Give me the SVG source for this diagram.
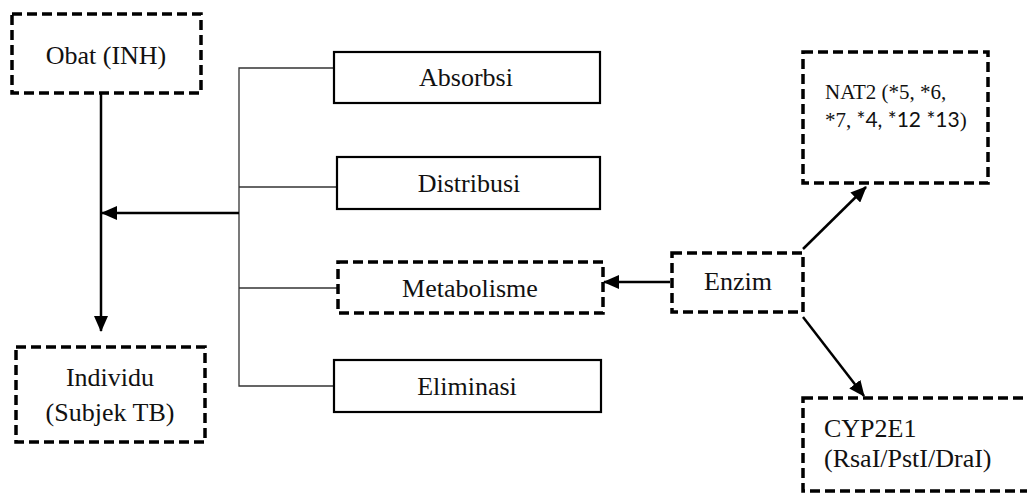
<svg xmlns="http://www.w3.org/2000/svg" width="1027" height="494" viewBox="0 0 1027 494">
  <defs>
    <style>
      .dash { fill: #fff; stroke: #000; stroke-width: 3.5; stroke-dasharray: 10 5; }
      .solid { fill: #fff; stroke: #000; stroke-width: 2.2; }
      .lbl { font-family: "Liberation Serif", "Times New Roman", serif; font-size: 26px; fill: #111; }
      .small { font-family: "Liberation Serif", "Times New Roman", serif; font-size: 21px; fill: #111; }
      .sans { font-family: Lato, "Liberation Sans", sans-serif; }
      .thin { stroke: #333; stroke-width: 1.3; fill: none; }
      .arr { stroke: #000; stroke-width: 2.5; fill: none; marker-end: url(#head); }
    </style>
    <marker id="head" markerUnits="userSpaceOnUse" markerWidth="16" markerHeight="14" refX="15" refY="7" orient="auto">
      <path d="M0,0 L16,7 L0,14 Z" fill="#000"/>
    </marker>
  </defs>

  <g id="connectors">
    <!-- bracket joining the four pharmacokinetic steps -->
    <polyline class="thin" points="333,68 239,68 239,386 333,386"/>
    <line class="thin" x1="239" y1="187" x2="336" y2="187"/>
    <line class="thin" x1="239" y1="288" x2="337" y2="288"/>
    <!-- arrows -->
    <line class="arr" x1="239" y1="213" x2="102" y2="213"/>
    <line class="arr" x1="101" y1="93" x2="101" y2="331"/>
    <line class="arr" x1="670" y1="282" x2="604" y2="282"/>
    <line class="arr" x1="803" y1="249" x2="866" y2="187"/>
    <line class="arr" x1="803" y1="317" x2="864" y2="396"/>
  </g>

  <g id="obat">
    <rect class="dash" x="12" y="14" width="189" height="79"/>
    <text class="lbl" x="106" y="64" text-anchor="middle">Obat (INH)</text>
  </g>

  <g id="individu">
    <rect class="dash" x="16" y="347" width="189" height="95"/>
    <text class="lbl" x="110" y="386" text-anchor="middle">Individu</text>
    <text class="lbl" x="110" y="421" text-anchor="middle">(Subjek TB)</text>
  </g>

  <g id="absorbsi">
    <rect class="solid" x="334" y="52" width="266" height="51"/>
    <text class="lbl" x="466" y="86" text-anchor="middle">Absorbsi</text>
  </g>

  <g id="distribusi">
    <rect class="solid" x="337" y="157" width="263" height="52"/>
    <text class="lbl" x="469" y="192" text-anchor="middle">Distribusi</text>
  </g>

  <g id="metabolisme">
    <rect class="dash" x="338" y="262" width="265" height="51"/>
    <text class="lbl" x="470" y="297" text-anchor="middle">Metabolisme</text>
  </g>

  <g id="eliminasi">
    <rect class="solid" x="334" y="360" width="267" height="52"/>
    <text class="lbl" x="467" y="395" text-anchor="middle">Eliminasi</text>
  </g>

  <g id="enzim">
    <rect class="dash" x="672" y="253" width="131" height="59"/>
    <text class="lbl" x="738" y="290" text-anchor="middle">Enzim</text>
  </g>

  <g id="nat2">
    <rect class="dash" x="803" y="52" width="185" height="131"/>
    <text class="small" x="825" y="99">NAT2 (*5, *6,</text>
    <text class="small" x="825" y="127">*7, <tspan class="sans">*4, *12 *13</tspan>)</text>
  </g>

  <g id="cyp2e1">
    <rect class="dash" x="803" y="398" width="232" height="93"/>
    <text class="lbl" x="824" y="437">CYP2E1</text>
    <text class="lbl" x="824" y="467">(RsaI/PstI/DraI)</text>
  </g>
</svg>
